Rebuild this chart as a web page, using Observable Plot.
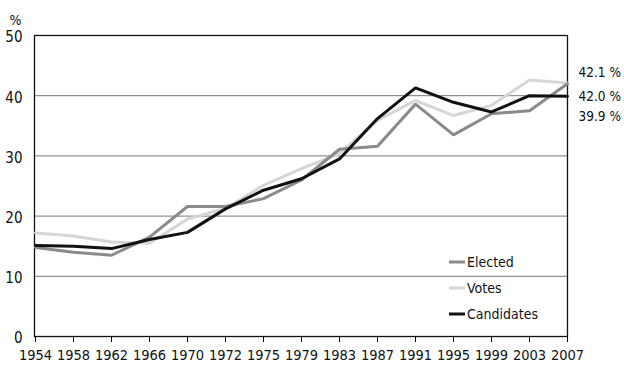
<!DOCTYPE html>
<html>
<head>
<meta charset="utf-8">
<script src="https://cdn.jsdelivr.net/npm/d3@7"></script>
<script src="https://cdn.jsdelivr.net/npm/@observablehq/plot@0.6"></script>
<style>
  html, body { margin: 0; padding: 0; background: #fff; }
  #chart { position: relative; width: 624px; height: 366px; }
  svg { font-family: "DejaVu Sans Condensed", "Liberation Sans Narrow", sans-serif; }
</style>
</head>
<body>
<div id="chart"></div>
<script>
const years = ["1954","1958","1962","1966","1970","1972","1975","1979","1983","1987","1991","1995","1999","2003","2007"];
const elected    = [14.8,14.0,13.5,16.5,21.6,21.6,22.9,26.0,31.1,31.6,38.6,33.5,37.0,37.5,42.0];
const votes      = [17.2,16.7,15.7,15.5,19.5,21.3,25.1,27.9,30.4,35.9,39.2,36.7,38.4,42.6,42.1];
const candidates = [15.1,15.0,14.6,16.1,17.3,21.2,24.3,26.2,29.5,36.2,41.3,38.9,37.3,40.0,39.9];
const seriesNames = ["Elected", "Votes", "Candidates"];
const seriesColors = ["#8a8a8a", "#d6d6d6", "#111111"];
const endLabels = ["42.0 %", "42.1 %", "39.9 %"];
const endLabelShift = [13, -10, 20];
const yTicks = [0, 10, 20, 30, 40, 50];

const seriesValues = [elected, votes, candidates];
const rows = [];
seriesNames.forEach((s, i) => years.forEach((yr, j) => rows.push({series: s, year: yr, value: seriesValues[i][j]})));
const drawOrder = ["Votes", "Elected", "Candidates"];

const marks = [
  Plot.ruleY([10, 20, 30, 40], {stroke: "#777", strokeWidth: 1}),
  Plot.frame({stroke: "#111", strokeWidth: 1.3}),
  Plot.axisY({ticks: yTicks, tickSize: 0, tickPadding: 12, dy: 2, fontSize: 15, label: null, fill: "#111"}),
  Plot.axisX({tickSize: 6, tickPadding: 7, fontSize: 14.5, label: null, fill: "#111"}),
  Plot.text(["%"], {frameAnchor: "top-left", dx: -25, dy: -20, fontSize: 14, textAnchor: "start", fill: "#111"})
];
drawOrder.forEach(name => {
  const i = seriesNames.indexOf(name);
  marks.push(Plot.line(rows.filter(d => d.series === name), {
    x: "year", y: "value", stroke: seriesColors[i], strokeWidth: 3, strokeLinejoin: "miter"
  }));
});
seriesNames.forEach((name, i) => {
  const last = seriesValues[i][years.length - 1];
  marks.push(Plot.text([{year: years[years.length - 1], value: last, t: endLabels[i]}], {
    x: "year", y: "value", text: "t", dx: 11, dy: endLabelShift[i], textAnchor: "start", fontSize: 13.5, fill: "#111"
  }));
});

const plot = Plot.plot({
  width: 624,
  height: 366,
  marginLeft: 34,
  marginRight: 57,
  marginTop: 35,
  marginBottom: 30,
  x: {type: "point", domain: years, padding: 0},
  y: {domain: [0, 50]},
  marks
});

// legend inside the plot, lower right
const svg = d3.select(plot);
const legendOrder = ["Elected", "Votes", "Candidates"];
const lg = svg.append("g").attr("transform", "translate(449,262)").attr("text-anchor", "start");
legendOrder.forEach((name, k) => {
  const i = seriesNames.indexOf(name);
  const g = lg.append("g").attr("transform", `translate(0,${k * 26})`);
  g.append("line").attr("x1", 0).attr("x2", 16).attr("y1", 0).attr("y2", 0)
    .attr("stroke", seriesColors[i]).attr("stroke-width", 3);
  g.append("text").attr("x", 18).attr("y", 0).attr("dy", "0.35em")
    .attr("font-size", 14).attr("fill", "#111").text(name);
});

document.getElementById("chart").appendChild(plot);
</script>
</body>
</html>
